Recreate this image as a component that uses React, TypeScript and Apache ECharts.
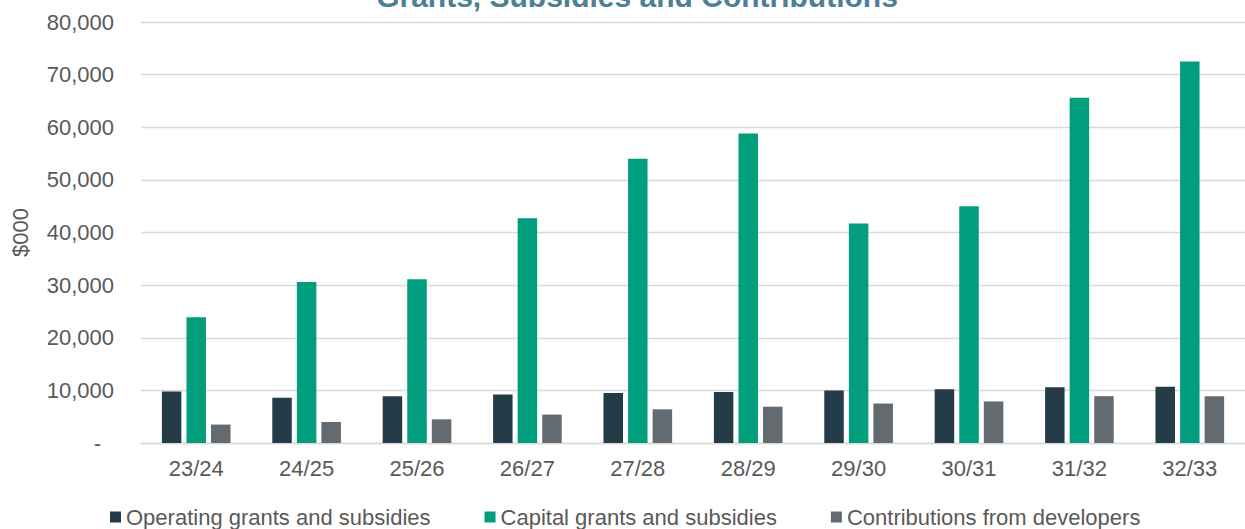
import React, { useEffect, useRef } from "react";
import * as echarts from "echarts";

// Financial years shown on the category axis
const years = ["23/24", "24/25", "25/26", "26/27", "27/28", "28/29", "29/30", "30/31", "31/32", "32/33"];

// Values in $000
const operatingGrants = [9800, 8600, 8900, 9200, 9500, 9700, 10000, 10200, 10600, 10700];
const capitalGrants = [23900, 30600, 31100, 42700, 54000, 58800, 41700, 45000, 65600, 72500];
const developerContributions = [3500, 4000, 4500, 5400, 6400, 6900, 7500, 7900, 8900, 8900];

const seriesNames = [
  "Operating grants and subsidies",
  "Capital grants and subsidies",
  "Contributions from developers",
];

const chartTitle = "Grants, Subsidies and Contributions";
const axisName = "$000";

const FONT = "Liberation Sans, Arial, sans-serif";
const TEXT = "#595959";
const GRID = "#d9d9d9";
const COLORS = ["#243b48", "#009e7d", "#636b71"];

export default function App() {
  const ref = useRef<HTMLDivElement>(null);

  useEffect(() => {
    if (!ref.current) return;
    const chart = echarts.init(ref.current, null, { renderer: "svg" });

    const bar = (name: string, data: number[], color: string) => ({
      name,
      type: "bar",
      data,
      barWidth: 19.5,
      barGap: "26%",
      itemStyle: { color },
    });

    chart.setOption({
      animation: false,
      backgroundColor: "#ffffff",
      textStyle: { fontFamily: FONT },
      graphic: [
        {
          type: "text",
          x: 637,
          y: 11,
          style: {
            text: chartTitle,
            fontFamily: FONT,
            fontSize: 30,
            fontWeight: "bold",
            fill: "#4d7f95",
            align: "center",
            verticalAlign: "bottom",
          },
        },
      ],
      grid: { left: 141, right: 0, top: 22, bottom: 86 },
      legend: {
        data: seriesNames,
        left: 110,
        top: 506,
        padding: 0,
        itemWidth: 11,
        itemHeight: 11,
        itemGap: 54,
        icon: "rect",
        textStyle: { color: TEXT, fontSize: 22, fontFamily: FONT, lineHeight: 22 },
      },
      xAxis: {
        type: "category",
        data: years,
        axisLine: { lineStyle: { color: GRID, width: 1.3 } },
        axisTick: { show: false },
        axisLabel: { color: TEXT, fontSize: 22, fontFamily: FONT, margin: 14 },
      },
      yAxis: {
        type: "value",
        min: 0,
        max: 80000,
        interval: 10000,
        name: axisName,
        nameLocation: "middle",
        nameGap: 110,
        nameRotate: 90,
        nameTextStyle: { color: TEXT, fontSize: 22, fontFamily: FONT },
        axisLine: { show: false },
        axisTick: { show: false },
        splitLine: { lineStyle: { color: GRID, width: 1.3 } },
        axisLabel: {
          color: TEXT,
          fontSize: 22,
          fontFamily: FONT,
          margin: 27,
          formatter: (v: number) => (v === 0 ? "{z|-}" : v.toLocaleString("en-US")),
          rich: {
            z: { color: TEXT, fontSize: 22, fontFamily: FONT, padding: [0, 13, 0, 0] },
          },
        },
      },
      series: [
        bar(seriesNames[0], operatingGrants, COLORS[0]),
        bar(seriesNames[1], capitalGrants, COLORS[1]),
        bar(seriesNames[2], developerContributions, COLORS[2]),
      ],
    });

    return () => chart.dispose();
  }, []);

  return (
    <div
      ref={ref}
      style={{ position: "fixed", left: 0, top: 0, width: 1245, height: 529 }}
    />
  );
}
